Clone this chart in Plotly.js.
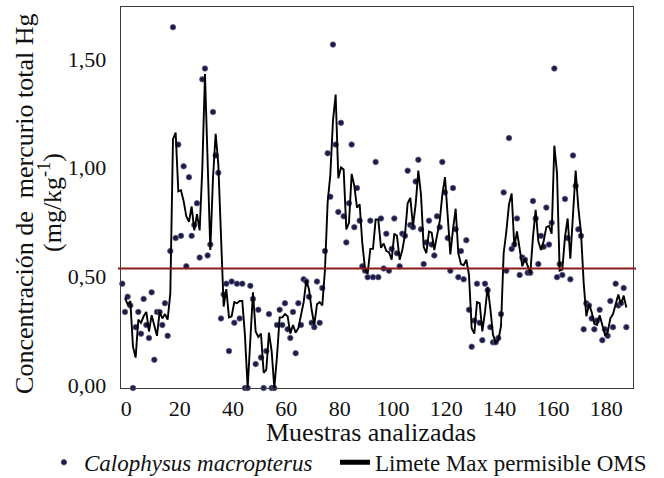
<!DOCTYPE html>
<html>
<head>
<meta charset="utf-8">
<script src="https://cdn.plot.ly/plotly-3.0.1.min.js"></script>
<style>html,body{margin:0;padding:0;background:#fff;}</style>
</head>
<body>
<div id="chart" style="width:664px;height:478px;"></div>
<script>
// Mercury concentration (mg/kg) per analysed sample
const mercury = [
  0.48,0.35,0.42,0.38,0.00,0.28,0.35,0.25,0.41,0.29,
  0.23,0.44,0.13,0.35,0.35,0.29,0.39,0.24,0.63,1.66,
  0.69,1.12,0.70,1.02,0.56,0.97,0.70,0.75,0.85,0.60,
  1.42,1.47,0.61,0.66,1.27,1.07,0.99,0.32,0.43,0.48,
  0.17,0.49,0.30,0.48,0.32,0.48,0.00,0.00,0.47,0.41,
  0.11,0.36,0.14,0.00,0.17,0.34,0.00,0.00,0.29,0.36,
  0.29,0.39,0.27,0.23,0.35,0.16,0.39,0.29,0.50,0.49,
  0.42,0.30,0.28,0.49,0.30,0.46,0.63,1.08,0.88,1.58,
  1.12,0.81,1.22,0.79,0.67,0.85,1.12,0.74,0.92,0.77,
  0.56,0.54,0.51,0.77,0.51,1.04,0.51,0.78,0.55,0.71,
  0.54,0.64,0.78,0.62,0.56,0.71,0.70,1.00,0.75,0.74,
  0.95,1.05,0.73,0.57,0.67,0.77,0.66,0.61,0.79,0.74,
  1.04,0.90,0.69,0.54,0.92,0.73,0.51,0.63,0.50,0.68,
  0.36,0.19,0.31,0.48,0.30,0.22,0.48,0.45,0.28,0.21,
  0.21,0.23,0.34,0.90,0.54,1.15,0.64,0.66,0.78,0.52,
  0.60,0.59,0.53,0.53,0.86,0.78,0.57,0.70,0.65,0.83,
  0.66,0.76,1.47,0.51,0.57,0.52,0.87,0.69,0.50,1.07,
  0.93,0.73,0.70,0.27,0.39,0.38,0.32,0.27,0.31,0.36,
  0.22,0.27,0.24,0.40,0.28,0.48,0.38,0.39,0.46,0.28
];
// sample numbers (x position of each measurement)
const samples = mercury.map((_, i) => i);

// WHO maximum permissible limit line (as drawn in the figure)
const limitValue = 0.55;

const xTickVals = [0, 20, 40, 60, 80, 100, 120, 140, 160, 180];
const yTickVals = [0, 0.5, 1.0, 1.5];
const yTickText = ['0,00', '0,50', '1,00', '1,50'];

const seriesName = '<i>Calophysus macropterus</i>';
const lineName = 'Limete Max permisible OMS';
const xTitle = 'Muestras analizadas';
const yTitleLine1 = 'Concentración de  mercurio total Hg';
const yTitleLine2 = '(mg/kg<sup>-1</sup>)';

// Trend line of the original figure: 2-period moving average of the measurements
const trendX = [], trendY = [];
for (let i = 1; i < mercury.length; i++) {
  trendX.push(samples[i]);
  trendY.push((mercury[i - 1] + mercury[i]) / 2);
}

const FONT = '"Liberation Serif", "Times New Roman", serif';
const TXT = '#111111';

const traces = [
  {
    type: 'scatter', mode: 'markers', name: seriesName, legend: 'legend',
    x: samples, y: mercury, cliponaxis: false,
    marker: {size: 5.5, color: '#1c1c42', line: {color: '#5a5a8c', width: 0.8}}
  },
  {
    type: 'scatter', mode: 'lines', name: lineName, showlegend: false,
    x: trendX, y: trendY, cliponaxis: false,
    line: {color: '#000000', width: 1.9}
  },
  { // legend key only (thick black key as in the original legend)
    type: 'scatter', mode: 'lines', name: lineName, legend: 'legend2',
    x: [null], y: [null],
    line: {color: '#000000', width: 5}
  }
];

const legendCommon = {
  orientation: 'h', xanchor: 'left', yanchor: 'middle', y: -0.195,
  font: {family: FONT, size: 23, color: TXT}, bgcolor: 'rgba(0,0,0,0)',
  itemwidth: 30
};

const layout = {
  width: 664, height: 478,
  margin: {l: 121, r: 31, t: 7, b: 90, pad: 0, autoexpand: false},
  paper_bgcolor: '#ffffff', plot_bgcolor: '#ffffff',
  font: {family: FONT, color: TXT, size: 22},
  showlegend: true,
  xaxis: {
    range: [-0.49, 191.5], tickvals: xTickVals, ticks: '',
    showgrid: false, zeroline: false, showline: true, mirror: true,
    linecolor: '#3a3a3a', linewidth: 1.3, automargin: false,
    tickfont: {family: FONT, size: 22, color: TXT},
    ticklabelstandoff: 0, ticklabelshift: 4
  },
  yaxis: {
    range: [0, 1.753], tickvals: yTickVals, ticktext: yTickText, ticks: '',
    showgrid: false, zeroline: false, showline: true, mirror: true,
    linecolor: '#3a3a3a', linewidth: 1.3, automargin: false,
    tickfont: {family: FONT, size: 22, color: TXT},
    ticklabelstandoff: 9, ticklabelshift: -3
  },
  legend: Object.assign({}, legendCommon, {x: -0.1505}),
  legend2: Object.assign({}, legendCommon, {x: 0.418}),
  annotations: [
    {text: xTitle, xref: 'paper', yref: 'paper', x: 0.4886, y: -0.117,
     xanchor: 'center', yanchor: 'middle', showarrow: false,
     font: {family: FONT, size: 26, color: TXT}},
    {text: yTitleLine1, xref: 'paper', yref: 'paper', x: -0.1876, y: 0.483,
     xanchor: 'center', yanchor: 'middle', showarrow: false, textangle: -90,
     font: {family: FONT, size: 26, color: TXT}},
    {text: yTitleLine2, xref: 'paper', yref: 'paper', x: -0.1388, y: 0.488,
     xanchor: 'center', yanchor: 'middle', showarrow: false, textangle: -90,
     font: {family: FONT, size: 26, color: TXT}}
  ],
  shapes: [{
    type: 'line', xref: 'paper', yref: 'y', x0: -0.006, x1: 1.006,
    y0: limitValue, y1: limitValue, line: {color: '#8b1a1a', width: 2}
  }]
};

Plotly.newPlot('chart', traces, layout, {displayModeBar: false, staticPlot: true});
</script>
</body>
</html>
